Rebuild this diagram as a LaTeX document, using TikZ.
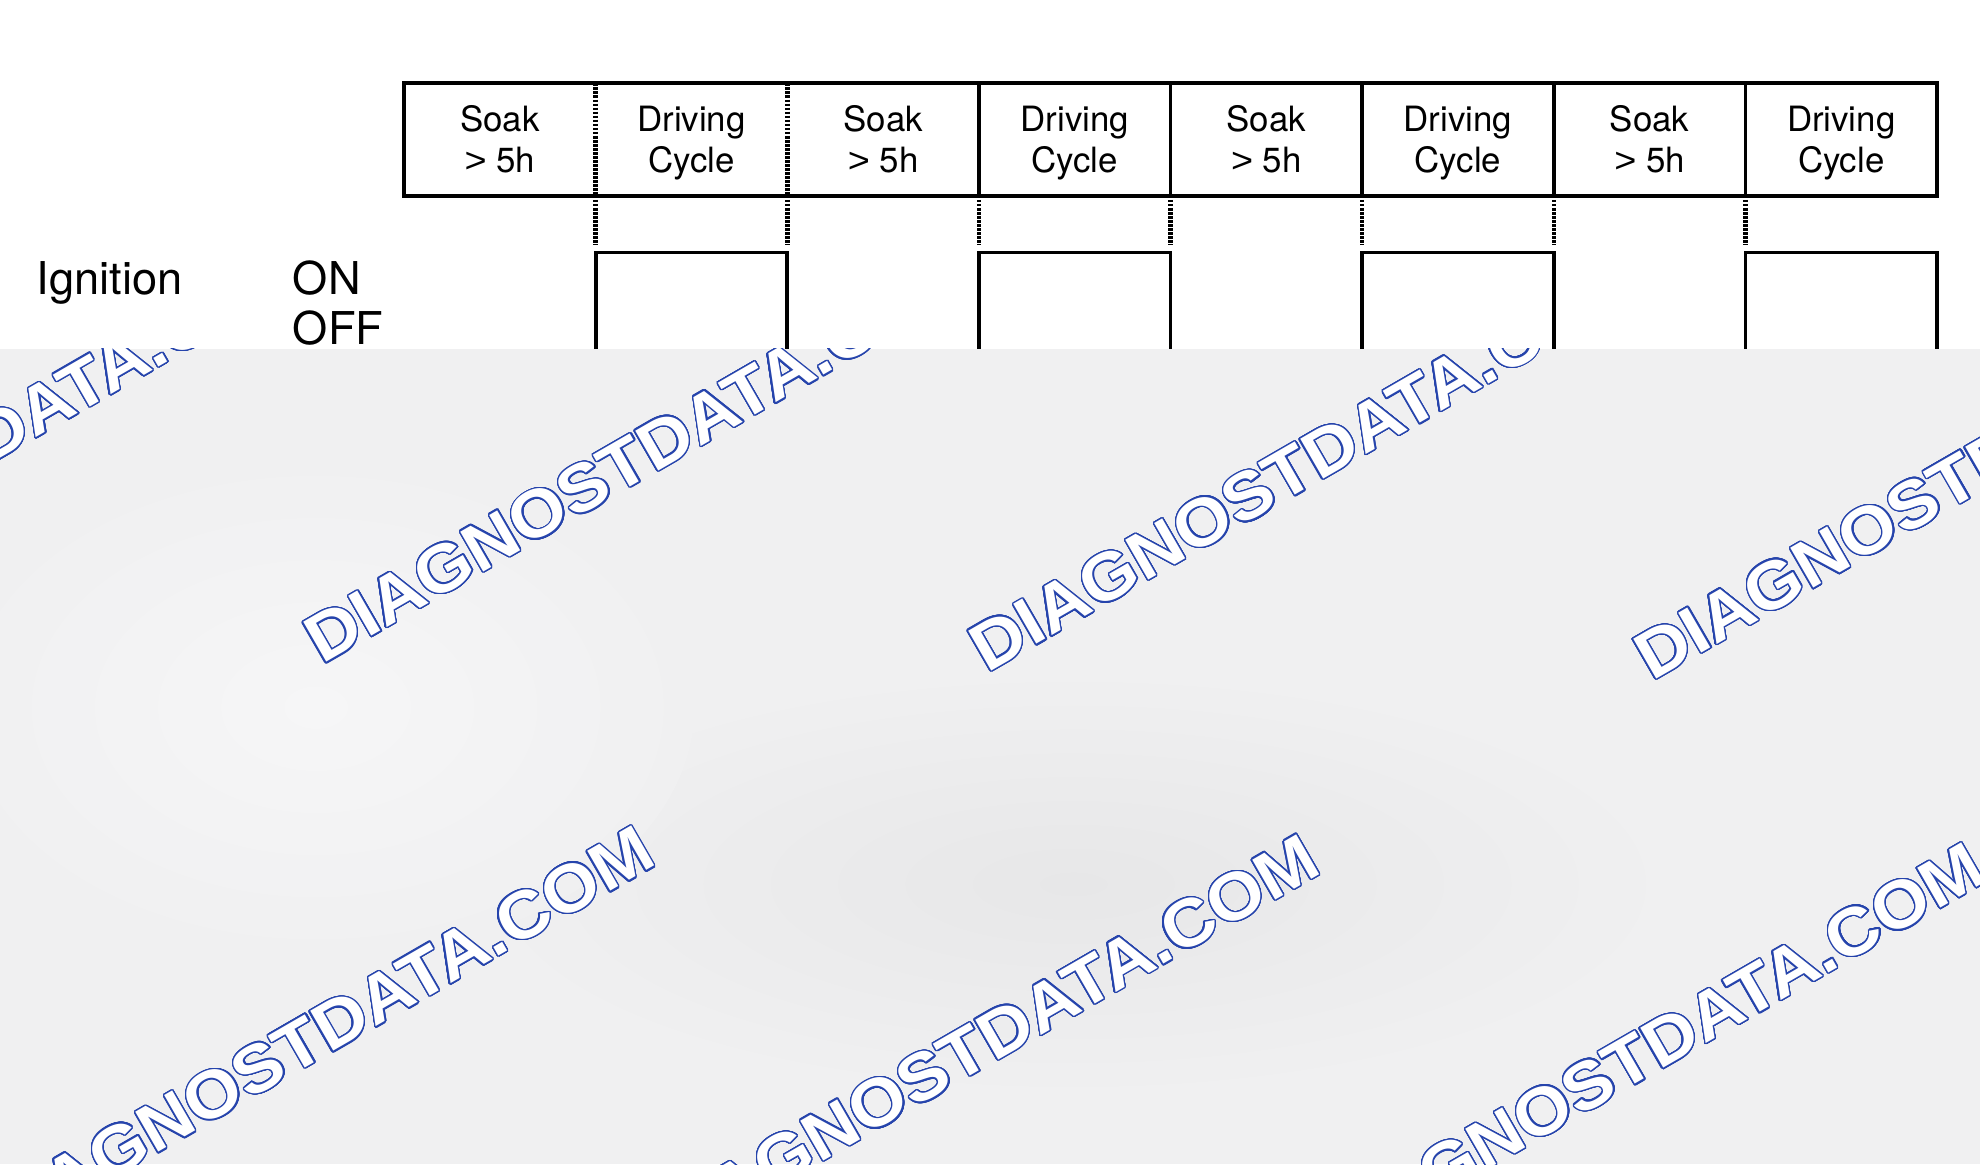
\documentclass[tikz,border=0pt]{standalone}
\usepackage{fontspec}
\setmainfont{TeX Gyre Heros}
\newfontfamily\wmfont{Liberation Sans}[FakeStretch=1.085]
\usepackage{contour}
\contourlength{1.1pt}
\contournumber{32}
\definecolor{wmblue}{RGB}{38,68,172}
\definecolor{bgbase}{RGB}{240,240,241}
\definecolor{bgdark}{RGB}{231,231,232}
\definecolor{bglight}{RGB}{246,246,247}
\tikzset{
  box/.style={line width=3pt},
  dotline/.style={line width=3.6pt, dash pattern=on 2.1pt off 1.1pt},
  cell/.style={inner sep=0pt, align=center, anchor=base, font=\fontsize{27.6}{32.4}\selectfont},
  sig/.style={inner sep=0pt, anchor=base west, font=\fontsize{35.8}{40}\selectfont},
  wmark/.style={inner sep=0pt, anchor=base west, rotate=30, text=white,
    font=\wmfont\bfseries\fontsize{53}{60}\selectfont},
}
\begin{document}
\begin{tikzpicture}[x=1pt, y=-1pt]
  \useasboundingbox (0,0) rectangle (1568,922);
  \foreach \i in {0,...,8} {
    \coordinate (t\i) at (320+151.75*\i, 66);
    \coordinate (b\i) at (320+151.75*\i, 155);
    \coordinate (e\i) at (320+151.75*\i, 194);
    \coordinate (h\i) at (320+151.75*\i, 200);
    \coordinate (l\i) at (320+151.75*\i, 276);
  }
  \path
    (395.9,136.7) node[cell] (soak1) {Soak\\{\wmfont >} 5h}
    (547.6,136.7) node[cell] (drive1) {Driving\\Cycle}
    (699.4,136.7) node[cell] (soak2) {Soak\\{\wmfont >} 5h}
    (851.1,136.7) node[cell] (drive2) {Driving\\Cycle}
    (1002.9,136.7) node[cell] (soak3) {Soak\\{\wmfont >} 5h}
    (1154.6,136.7) node[cell] (drive3) {Driving\\Cycle}
    (1306.4,136.7) node[cell] (soak4) {Soak\\{\wmfont >} 5h}
    (1458.1,136.7) node[cell] (drive4) {Driving\\Cycle};
  \node[sig] (ign) at (29,233.6) {Ignition};
  \node[sig] (on) at (231.7,233.6) {ON};
  \node[sig] (off) at (231.7,273) {OFF};
  \draw[box] (t0) rectangle (b8);
  \draw[dotline] (t1) -- (b1);
  \draw[dotline] (t2) -- (b2);
  \foreach \i in {3,...,7}
    \draw[box] (t\i) -- (b\i);
  \foreach \i in {1,...,7}
    \draw[dotline] (b\i) -- (e\i);
  \draw[box] (l1) -- (h1) -- (h2) -- (l2);
  \draw[box] (l3) -- (h3) -- (h4) -- (l4);
  \draw[box] (l5) -- (h5) -- (h6) -- (l6);
  \draw[box] (l7) -- (h7) -- (h8) -- (l8);
  \fill[bgbase] (0,276) rectangle (1568,922);
  \begin{scope}
    \clip (0,276) rectangle (1568,922);
    \shade[inner color=bgdark, outer color=bgbase] (850,700) ellipse [x radius=480, y radius=170];
    \shade[inner color=bglight, outer color=bgbase] (250,560) ellipse [x radius=300, y radius=200];
    \node[wmark] (wm1) at (-271.5,520) {\contour{wmblue}{DIAGNOSTDATA.COM}};
    \node[wmark] (wm2) at (255.1,526.6) {\contour{wmblue}{DIAGNOSTDATA.COM}};
    \node[wmark] (wm3) at (781.7,533.2) {\contour{wmblue}{DIAGNOSTDATA.COM}};
    \node[wmark] (wm4) at (1308.3,539.8) {\contour{wmblue}{DIAGNOSTDATA.COM}};
    \node[wmark] (wm5) at (-2.3,986.5) {\contour{wmblue}{DIAGNOSTDATA.COM}};
    \node[wmark] (wm6) at (524.3,993.1) {\contour{wmblue}{DIAGNOSTDATA.COM}};
    \node[wmark] (wm7) at (1050.9,999.7) {\contour{wmblue}{DIAGNOSTDATA.COM}};
  \end{scope}
\end{tikzpicture}
\end{document}
